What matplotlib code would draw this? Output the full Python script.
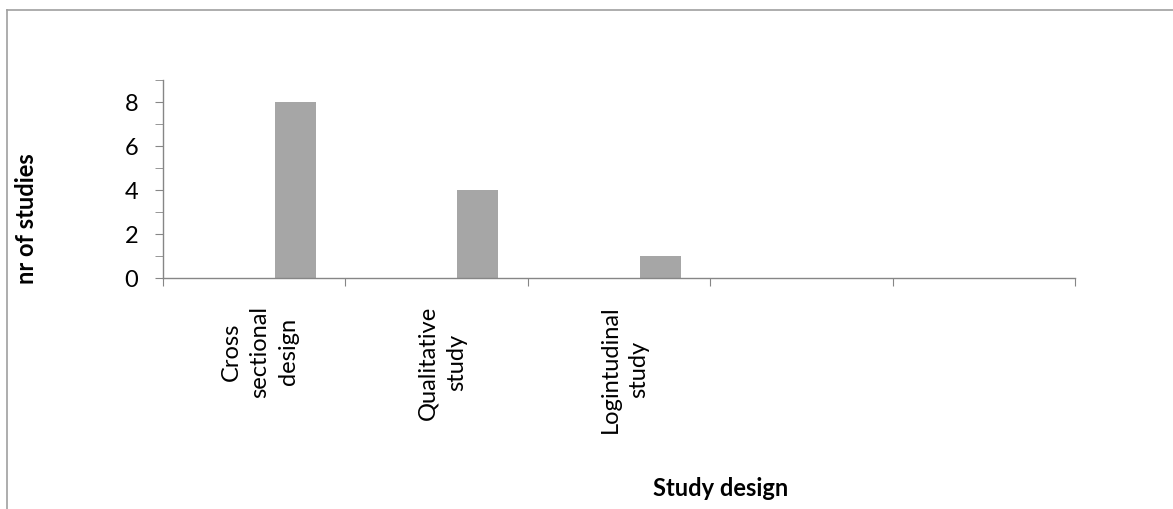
import matplotlib.pyplot as plt
from matplotlib.lines import Line2D
import numpy as np

# Data
categories = ["Cross\nsectional\ndesign", "Qualitative\nstudy", "Logintudinal\nstudy", "", ""]
studies = [8, 4, 1, 0, 0]

plt.rcParams['font.family'] = ['Lato', 'DejaVu Sans']

fig = plt.figure(figsize=(11.73, 5.09), dpi=100)
ax = fig.add_axes([0.139, 0.4538, 0.7775, 0.389])

x = np.arange(len(categories))
# Excel-style cluster: the data sits in the third slot of each category
ax.bar(x + 0.225, studies, width=0.225, color='#a6a6a6', edgecolor='none')

ax.set_xlim(-0.5, len(categories) - 0.5)
ax.set_ylim(0, 9)

spine_color = '#868686'
for side in ['top', 'right']:
    ax.spines[side].set_visible(False)
for side in ['left', 'bottom']:
    ax.spines[side].set_color(spine_color)
    ax.spines[side].set_linewidth(1.0)

# x: ticks at category boundaries, labels at category centres
ax.set_xticks(np.arange(len(categories) + 1) - 0.5)
ax.set_xticklabels([])
ax.set_xticks(x + 0.03, minor=True)
ax.set_xticklabels(categories, minor=True, rotation=90, fontsize=17)
for lab in ax.get_xticklabels(minor=True):
    lab.set_multialignment('center')
    lab.set_linespacing(1.45)
ax.tick_params(axis='x', which='major', direction='out', length=6, color=spine_color)
ax.tick_params(axis='x', which='minor', length=0, pad=20)

# y: major ticks labelled, minor ticks at odd values
ax.set_yticks([0, 2, 4, 6, 8])
ax.set_yticks([1, 3, 5, 7, 9], minor=True)
ax.tick_params(axis='y', which='both', direction='out', length=6, color=spine_color,
               labelsize=17, pad=12)

fig.text(27 / 1173, 1 - 219 / 509, 'nr of studies', rotation=90, fontsize=17,
         fontweight='bold', ha='center', va='center')
fig.text(721 / 1173, 1 - 488 / 509, 'Study design', fontsize=17,
         fontweight='bold', ha='center', va='center')

# outer chart frame (top and left edges visible)
frame_color = '#a0a0a0'
fig.add_artist(Line2D([7 / 1173, 1], [1 - 9.5 / 509] * 2, color=frame_color, lw=1.2,
                      transform=fig.transFigure))
fig.add_artist(Line2D([7 / 1173] * 2, [0, 1 - 9.5 / 509], color=frame_color, lw=1.2,
                      transform=fig.transFigure))

fig.savefig('out.png', dpi=100)
